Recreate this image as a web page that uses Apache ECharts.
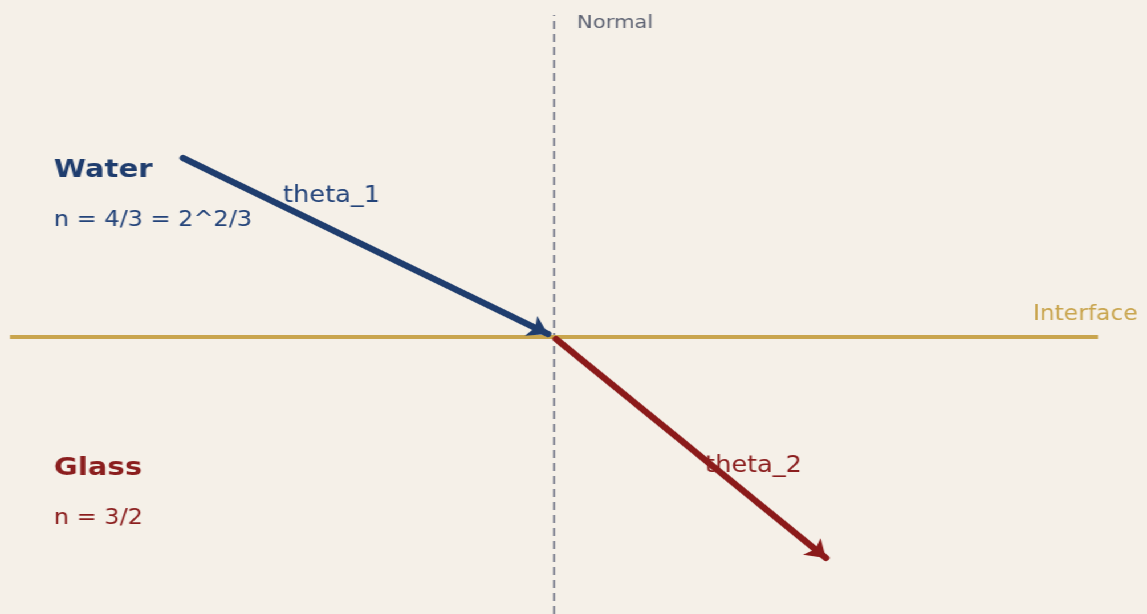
<!DOCTYPE html>
<html>
<head>
<meta charset="utf-8">
<script src="https://cdn.jsdelivr.net/npm/echarts@6/dist/echarts.min.js"></script>
<style>
html,body{margin:0;padding:0;background:#f5f0e8;}
#wrap{width:1147px;height:614px;overflow:hidden;background:#f5f0e8;}
#main{width:1006px;height:614px;transform:scaleX(1.14016);transform-origin:0 0;}
</style>
</head>
<body>
<div id="wrap"><div id="main"></div></div>
<script>
// coordinates: x along interface, y along normal (units: arbitrary)
var incidentRay = [[-3.70, 1.79], [-0.05, 0.03]];
var refractedRay = [[0.03, -0.02], [2.73, -2.21]];
var interfaceLine = [[-5.43, 0], [5.45, 0]];
var normalLine = [[0.005, -2.77], [0.005, 3.22]];

var labelTexts = ['Normal', 'Water', 'n = 4/3 = 2^2/3', 'theta_1', 'Glass', 'n = 3/2', 'theta_2', 'Interface'];
var labelPos = [[0.24, 3.14], [-4.99, 1.67], [-4.99, 1.16], [-2.70, 1.41], [-4.99, -1.31], [-4.99, -1.82], [1.52, -1.29], [4.80, 0.22]];

var labelStyles = [
  {color: '#5f6474', fontSize: 18.5},
  {color: '#1f3d6e', fontSize: 25.5, fontWeight: 'bold'},
  {color: '#24447a', fontSize: 21},
  {color: '#24447a', fontSize: 22.5},
  {color: '#8b1e1e', fontSize: 25.5, fontWeight: 'bold'},
  {color: '#8b1e1e', fontSize: 21},
  {color: '#8b1e1e', fontSize: 22.5},
  {color: '#c9a54e', fontSize: 20.5}
];

var chart = echarts.init(document.getElementById('main'));
var labelData = labelTexts.map(function (t, i) {
  var s = labelStyles[i];
  return {
    value: labelPos[i],
    label: {
      show: true, position: 'right', distance: 0, formatter: t, opacity: 1,
      color: s.color, fontSize: s.fontSize, fontWeight: s.fontWeight || 'normal',
      fontFamily: 'DejaVu Sans'
    }
  };
});

chart.setOption({
  backgroundColor: '#f5f0e8',
  animation: false,
  grid: {left: 0, right: 0, top: 0, bottom: 0},
  xAxis: {type: 'value', min: -5.53, max: 5.94, show: false},
  yAxis: {type: 'value', min: -2.77, max: 3.37, show: false},
  series: [
    {
      type: 'lines', coordinateSystem: 'cartesian2d', z: 1,
      symbol: ['none', 'none'],
      lineStyle: {color: '#868896', width: 2, type: [8, 5], opacity: 1},
      data: [{coords: normalLine}]
    },
    {
      type: 'lines', coordinateSystem: 'cartesian2d', z: 2,
      symbol: ['none', 'none'],
      lineStyle: {color: '#c9a54e', width: 4, opacity: 1},
      data: [{coords: interfaceLine}]
    },
    {
      type: 'lines', coordinateSystem: 'cartesian2d', z: 3,
      symbol: ['none', 'arrow'], symbolSize: 17,
      lineStyle: {color: '#1f3d6e', width: 6, opacity: 1, cap: 'round'},
      data: [{coords: incidentRay}]
    },
    {
      type: 'lines', coordinateSystem: 'cartesian2d', z: 3,
      symbol: ['none', 'arrow'], symbolSize: 17,
      lineStyle: {color: '#8b1a1a', width: 6, opacity: 1, cap: 'round'},
      data: [{coords: refractedRay}]
    },
    {
      type: 'scatter', symbolSize: 0, z: 4, silent: true,
      itemStyle: {opacity: 1},
      data: labelData
    }
  ]
});
</script>
</body>
</html>
